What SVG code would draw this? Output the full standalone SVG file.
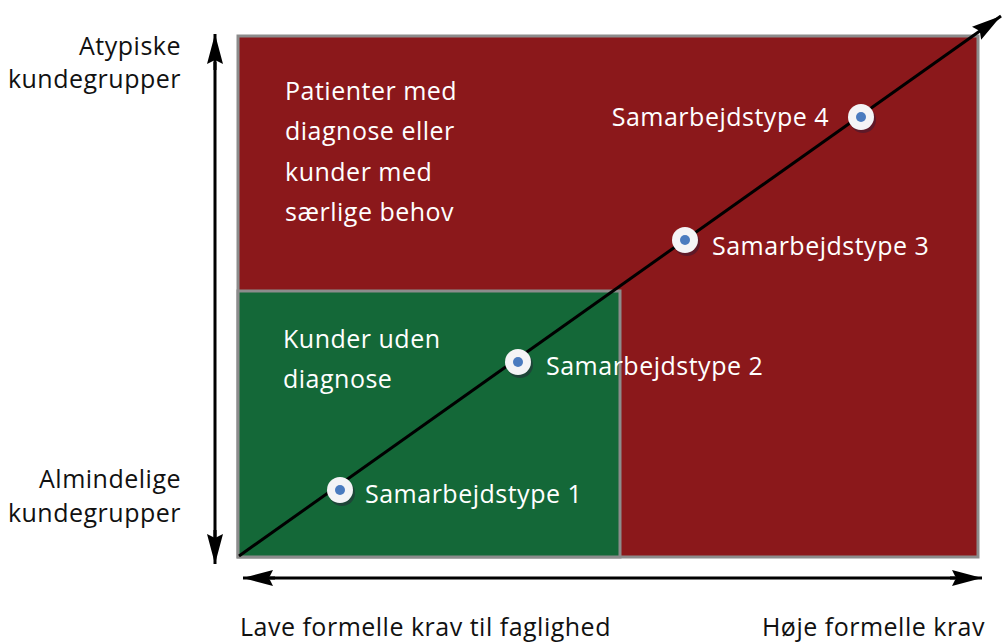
<svg xmlns="http://www.w3.org/2000/svg" width="1002" height="642" viewBox="0 0 1002 642">
<defs>
<style>
.t{font-family:"Open Sans","Noto Sans",sans-serif;font-size:25px;letter-spacing:0.5px}
.w{fill:#fff}
.k{fill:#111}
.ax{stroke:#000;stroke-width:3;fill:none}
</style>
<marker id="big" viewBox="0 0 30 16" refX="30" refY="8" markerWidth="30" markerHeight="16" markerUnits="userSpaceOnUse" orient="auto-start-reverse">
<path d="M0,0 L30,8 L0,16 L4,8 z" fill="#000"/>
</marker>
<g id="dot">
<circle cx="2" cy="3" r="13" fill="#2a1a3a" opacity="0.45"/>
<circle cx="0" cy="0" r="13" fill="#f4f4f6"/>
<circle cx="0" cy="0" r="5" fill="#4a7bbf"/>
</g>
</defs>
<rect width="1002" height="642" fill="#fff"/>
<g id="atypiske-region">
<rect x="238" y="36" width="740" height="521" fill="#8b181b" stroke="#8c8c8c" stroke-width="3"/>
<text class="t w" x="285" y="100">Patienter med</text>
<text class="t w" x="285" y="140">diagnose eller</text>
<text class="t w" x="285" y="181">kunder med</text>
<text class="t w" x="285" y="221">særlige behov</text>
</g>
<g id="almindelige-region">
<rect x="238" y="291" width="382" height="266" fill="#146838" stroke="#8c8c8c" stroke-width="3"/>
<text class="t w" x="283" y="348">Kunder uden</text>
<text class="t w" x="283" y="388">diagnose</text>
</g>
<g id="connectors">
<line class="ax" x1="215" y1="62" x2="215" y2="538"/>
<line x1="215" y1="70" x2="215" y2="34" stroke="#000" stroke-width="3" marker-end="url(#big)"/>
<line x1="215" y1="530" x2="215" y2="564" stroke="#000" stroke-width="3" marker-end="url(#big)"/>
<line x1="270" y1="578" x2="955" y2="578" stroke="#000" stroke-width="3"/>
<line x1="275" y1="578" x2="243" y2="578" stroke="#000" stroke-width="3" marker-end="url(#big)"/>
<line x1="950" y1="578" x2="982" y2="578" stroke="#000" stroke-width="3" marker-end="url(#big)"/>
<line x1="239" y1="556" x2="1001" y2="16" stroke="#000" stroke-width="3" marker-end="url(#big)"/>
</g>
<g id="type1"><use href="#dot" x="340" y="490"/><text class="t w" x="365" y="503">Samarbejdstype 1</text></g>
<g id="type2"><use href="#dot" x="518" y="362"/><text class="t w" x="546" y="375">Samarbejdstype 2</text></g>
<g id="type3"><use href="#dot" x="685" y="240"/><text class="t w" x="712" y="255">Samarbejdstype 3</text></g>
<g id="type4"><use href="#dot" x="861" y="117"/><text class="t w" x="829" y="126" text-anchor="end">Samarbejdstype 4</text></g>
<g id="y-labels">
<text class="t k" x="181" y="55" text-anchor="end">Atypiske</text>
<text class="t k" x="181" y="88" text-anchor="end">kundegrupper</text>
<text class="t k" x="181" y="488" text-anchor="end">Almindelige</text>
<text class="t k" x="181" y="522" text-anchor="end">kundegrupper</text>
</g>
<g id="x-labels">
<text class="t k" x="240" y="636">Lave formelle krav til faglighed</text>
<text class="t k" x="985" y="636" text-anchor="end">Høje formelle krav</text>
</g>
</svg>
